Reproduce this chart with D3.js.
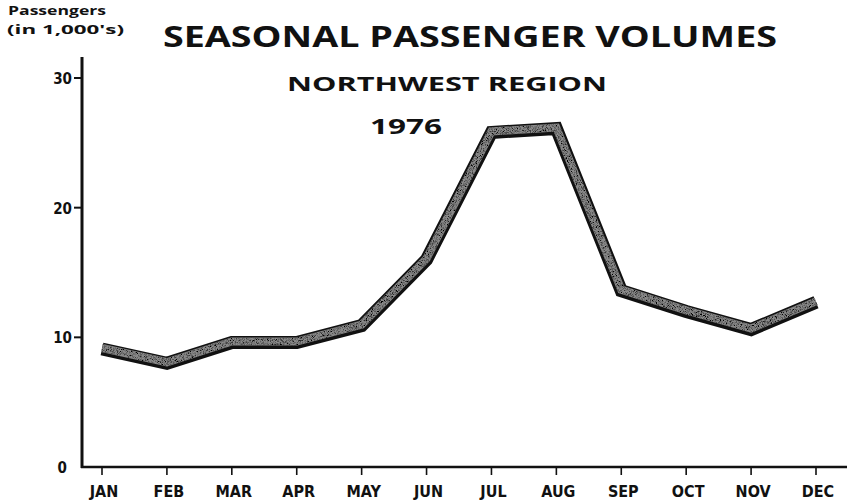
<!DOCTYPE html>
<html>
<head>
<meta charset="utf-8">
<script src="https://cdn.jsdelivr.net/npm/d3@7"></script>
<style>
body { margin: 0; background: #fff; }
text { font-family: 'Open Sans', 'DejaVu Sans', sans-serif; font-weight: 700; fill: #111; }
.tick-label { font-family: 'DejaVu Sans Condensed', 'Liberation Sans Narrow', sans-serif; font-weight: 700; }
</style>
</head>
<body>
<div id="chart"></div>
<script>
let months = ['JAN', 'FEB', 'MAR', 'APR', 'MAY', 'JUN', 'JUL', 'AUG', 'SEP', 'OCT', 'NOV', 'DEC']
let passengers = [9.1, 8.0, 9.6, 9.6, 10.9, 16.0, 25.8, 26.1, 13.6, 12.0, 10.6, 12.7]
let yTicks = [0, 10, 20, 30]

let width = 847, height = 503

let svg = d3.select('#chart')
.append('svg')
.attr('width', width)
.attr('height', height)

let x = d3.scalePoint()
.domain(months)
.range([102, 816])

let y = d3.scaleLinear()
.domain([0, 30])
.range([467, 78])

// axes
svg.append('line')
.attr('x1', 82).attr('x2', 82)
.attr('y1', 57).attr('y2', y(0) + 1)
.attr('stroke', '#111').attr('stroke-width', 3)

svg.append('line')
.attr('x1', 81).attr('x2', 847)
.attr('y1', y(0)).attr('y2', y(0))
.attr('stroke', '#111').attr('stroke-width', 2.5)

svg.selectAll('.ytick')
.data(yTicks.filter(d => d > 0))
.join('line')
.attr('class', 'ytick')
.attr('x1', 74).attr('x2', 82)
.attr('y1', d => y(d)).attr('y2', d => y(d))
.attr('stroke', '#111').attr('stroke-width', 2)

svg.selectAll('.ylabel')
.data(yTicks)
.join('text')
.attr('class', 'tick-label')
.attr('x', d => d == 0 ? 67 : 72)
.attr('y', d => y(d) + 6)
.attr('text-anchor', 'end')
.attr('font-size', 15)
.text(d => d)

svg.selectAll('.xtick')
.data(months)
.join('line')
.attr('class', 'xtick')
.attr('x1', d => x(d)).attr('x2', d => x(d))
.attr('y1', y(0)).attr('y2', y(0) + 8)
.attr('stroke', '#111').attr('stroke-width', 1.6)

svg.selectAll('.xlabel')
.data(months)
.join('text')
.attr('class', 'tick-label')
.attr('x', d => x(d) + 2)
.attr('y', 497)
.attr('text-anchor', 'middle')
.attr('font-size', 16)
.text(d => d)

// texture for the ribbon
let defs = svg.append('defs')
let filter = defs.append('filter').attr('id', 'grain')
filter.append('feTurbulence')
.attr('type', 'fractalNoise').attr('baseFrequency', 1.2).attr('numOctaves', 2).attr('seed', 3)
.attr('result', 'noise')
filter.append('feColorMatrix')
.attr('in', 'noise').attr('type', 'matrix')
.attr('values', '0 0 0 0 0  0 0 0 0 0  0 0 0 0 0  3 0 0 0 -1.2')
.attr('result', 'specks')
filter.append('feComposite')
.attr('in', 'specks').attr('in2', 'SourceGraphic').attr('operator', 'in')
.attr('result', 'clip')
filter.append('feMerge')
.call(m => {
	m.append('feMergeNode').attr('in', 'SourceGraphic')
	m.append('feMergeNode').attr('in', 'clip')
})

let line = d3.line()
.x((d, i) => x(months[i]))
.y(d => y(d))

svg.append('path')
.datum(passengers)
.attr('d', line)
.attr('fill', 'none')
.attr('stroke', '#111')
.attr('stroke-width', 13)
.attr('stroke-linejoin', 'miter')

svg.append('path')
.datum(passengers)
.attr('d', line)
.attr('transform', 'translate(0,-1)')
.attr('fill', 'none')
.attr('stroke', '#8a8a8a')
.attr('stroke-width', 8)
.attr('stroke-linejoin', 'miter')
.attr('filter', 'url(#grain)')

// titles
svg.append('text')
.attr('x', 163).attr('y', 47)
.attr('font-size', 29)
.attr('textLength', 614)
.attr('lengthAdjust', 'spacingAndGlyphs')
.text('SEASONAL PASSENGER VOLUMES')

svg.append('text')
.attr('x', 287).attr('y', 91)
.attr('font-size', 20)
.attr('textLength', 320)
.attr('lengthAdjust', 'spacingAndGlyphs')
.text('NORTHWEST REGION')

svg.append('text')
.attr('x', 370).attr('y', 134)
.attr('font-size', 22)
.attr('textLength', 72)
.attr('lengthAdjust', 'spacingAndGlyphs')
.text('1976')

svg.append('text')
.attr('x', 8).attr('y', 15)
.attr('font-size', 12)
.attr('textLength', 98)
.attr('lengthAdjust', 'spacingAndGlyphs')
.text('Passengers')

svg.append('text')
.attr('x', 7).attr('y', 34)
.attr('font-size', 13)
.attr('textLength', 117)
.attr('lengthAdjust', 'spacingAndGlyphs')
.text("(in 1,000's)")
</script>
</body>
</html>
